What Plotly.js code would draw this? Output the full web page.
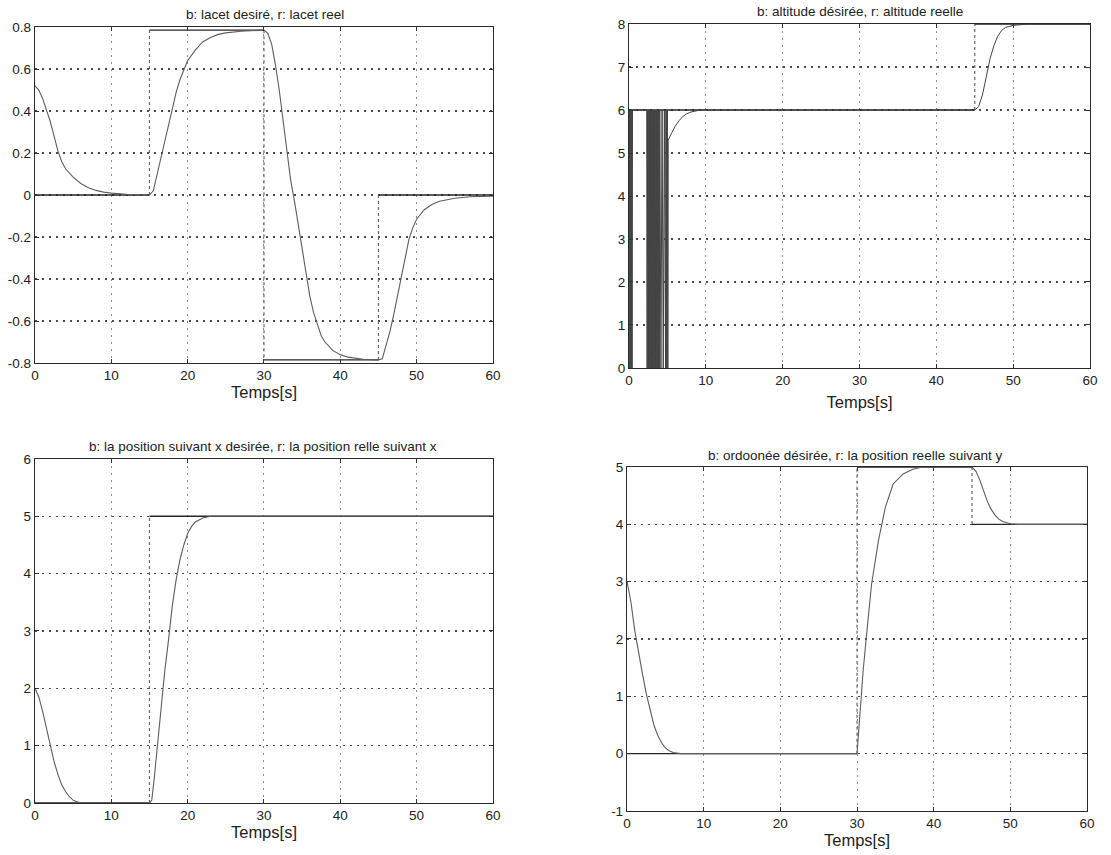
<!DOCTYPE html>
<html>
<head>
<meta charset="utf-8">
<script src="https://cdn.plot.ly/plotly-3.0.1.min.js"></script>
<style>html,body{margin:0;padding:0;background:#fff}#chart{width:1111px;height:855px}</style>
</head>
<body>
<div id="chart"></div>
<script>
// ---- Subplot 1 : yaw (lacet) ----
const yawDesT = [0, 15, 30, 45, 60];
const yawDesY = [0, 0.785, -0.785, 0, 0];
const yawT = [0, 0.5, 1, 1.5, 2, 2.5, 3, 3.5, 4, 5, 6, 7, 8, 9, 10, 12, 15,
  15.5, 16, 16.5, 17, 17.5, 18, 18.5, 19, 19.5, 20, 21, 22, 23, 24, 25, 27, 30,
  30.5, 31, 31.5, 32, 32.5, 33, 33.5, 34, 34.5, 35, 35.5, 36, 36.5, 37, 37.5, 38, 39, 40, 41, 43, 45,
  45.5, 46, 46.5, 47, 47.5, 48, 48.5, 49, 49.5, 50, 51, 52, 53, 55, 57, 60];
const yawY = [0.52, 0.50, 0.46, 0.41, 0.35, 0.28, 0.21, 0.16, 0.125, 0.085, 0.055, 0.035, 0.022, 0.014, 0.009, 0.004, 0,
  0.02, 0.1, 0.18, 0.26, 0.34, 0.42, 0.49, 0.55, 0.6, 0.64, 0.69, 0.73, 0.75, 0.765, 0.772, 0.78, 0.785,
  0.77, 0.72, 0.62, 0.5, 0.35, 0.2, 0.07, -0.03, -0.14, -0.27, -0.38, -0.48, -0.56, -0.62, -0.67, -0.7, -0.74, -0.76, -0.772, -0.782, -0.785,
  -0.78, -0.72, -0.65, -0.57, -0.48, -0.38, -0.29, -0.21, -0.155, -0.115, -0.07, -0.045, -0.03, -0.015, -0.008, -0.005];
const yawTickVals = [-0.8, -0.6, -0.4, -0.2, 0, 0.2, 0.4, 0.6, 0.8];
const yawTickText = ["-0.8", "-0.6", "-0.4", "-0.2", "0", "0.2", "0.4", "0.6", "0.8"];

// ---- Subplot 2 : altitude ----
const altDesT = [0, 45, 60];
const altDesY = [6, 8, 8];
const altT = [0, 0.05, 0.1, 0.15, 0.2, 0.25, 0.3, 0.35, 0.4, 0.45,
  2.3, 2.35, 2.4, 2.45, 2.5, 2.55, 2.6, 2.65, 2.7, 2.75, 2.8, 2.85, 2.9, 2.95, 3.0, 3.05, 3.1, 3.15, 3.2, 3.25,
  3.3, 3.35, 3.4, 3.45, 3.5, 3.55, 3.6, 3.65, 3.7, 3.75, 3.8, 3.85, 3.9, 3.95, 4.0,
  4.15, 4.3, 4.45, 4.6, 4.75, 4.8, 4.85, 4.9, 4.95, 5.0, 5.05, 5.1,
  5.5, 6, 6.5, 7, 7.5, 8, 9, 10, 45,
  45.5, 46, 46.5, 47, 47.5, 48, 48.5, 49, 50, 51, 52, 60];
const altY = [0, 6, 0, 6, 0, 6, 0, 6, 0, 6,
  6, 0, 6, 0, 6, 0, 6, 0, 6, 0, 6, 0, 6, 0, 6, 0, 6, 0, 6, 0,
  6, 0, 6, 0, 6, 0, 6, 0, 6, 0, 6, 0, 6, 0, 6,
  0, 6, 0, 6, 0, 6, 0, 6, 0, 6, 0, 5.3,
  5.45, 5.62, 5.75, 5.85, 5.91, 5.95, 5.99, 6, 6,
  6.08, 6.35, 6.8, 7.2, 7.5, 7.72, 7.85, 7.92, 7.97, 7.99, 8, 8];
const altTickVals = [0, 1, 2, 3, 4, 5, 6, 7, 8];

// ---- Subplot 3 : x position ----
const xDesT = [0, 15, 60];
const xDesY = [0, 5, 5];
const xT = [0, 0.5, 1, 1.5, 2, 2.5, 3, 3.5, 4, 4.5, 5, 5.5, 6, 7, 15,
  15.3, 15.6, 16, 16.5, 17, 17.5, 18, 18.5, 19, 19.5, 20, 20.5, 21, 22, 23, 60];
const xY = [2.0, 1.85, 1.6, 1.3, 1.0, 0.72, 0.5, 0.32, 0.2, 0.11, 0.05, 0.02, 0.005, 0, 0,
  0.05, 0.4, 0.95, 1.6, 2.3, 2.85, 3.45, 3.9, 4.25, 4.5, 4.7, 4.82, 4.9, 4.97, 5.0, 5.0];
const xTickVals = [0, 1, 2, 3, 4, 5, 6];

// ---- Subplot 4 : y position ----
const yDesT = [0, 30, 45, 60];
const yDesY = [0, 5, 4, 4];
const yT = [0, 0.5, 1, 1.5, 2, 2.5, 3, 3.5, 4, 4.5, 5, 5.5, 6, 7, 30,
  30.4, 30.8, 31.3, 31.9, 32.8, 33.7, 34.7, 36, 37.3, 38.5, 45,
  45.5, 46, 46.5, 47, 47.5, 48, 48.5, 49, 50, 51, 60];
const yY = [3.0, 2.65, 2.15, 1.75, 1.4, 1.05, 0.75, 0.5, 0.32, 0.19, 0.1, 0.05, 0.02, 0, 0,
  0.8, 1.45, 2.15, 2.96, 3.72, 4.3, 4.7, 4.88, 4.96, 5.0, 5.0,
  4.93, 4.78, 4.58, 4.4, 4.26, 4.16, 4.09, 4.05, 4.01, 4.0, 4.0];
const yTickVals = [-1, 0, 1, 2, 3, 4, 5];
const yTickText = ["-1", "0", "1", "2", "3", "4", "5"];

const timeTicks = [0, 10, 20, 30, 40, 50, 60];
const titles = [
  "b: lacet desiré, r: lacet reel",
  "b: altitude désirée, r: altitude reelle",
  "b: la position suivant x desirée, r: la position relle suivant x",
  "b: ordoonée désirée, r: la position reelle suivant y"
];
const xLabel = "Temps[s]";

const FONT = "Liberation Sans, Arial, sans-serif";
const desLine = {color: "#262626", width: 1.4};
const desVertLine = {color: "#666666", width: 1.2, dash: "3px,3px"};
const actLine = {color: "#5e5e5e", width: 1.1};

function tr(x, y, line, xa, ya) {
  return {x: x, y: y, type: "scatter", mode: "lines", line: line, xaxis: xa, yaxis: ya,
    hoverinfo: "skip", showlegend: false, connectgaps: false};
}
// desired step signal: flat parts dark, jumps lighter (as in the scan)
function stepTraces(t, v, xa, ya) {
  const hx = [], hy = [], vx = [], vy = [];
  for (let i = 0; i < t.length - 1; i++) {
    hx.push(t[i], t[i + 1], null); hy.push(v[i], v[i], null);
    if (i > 0) { vx.push(t[i], t[i], null); vy.push(v[i - 1], v[i], null); }
  }
  return [tr(vx, vy, desVertLine, xa, ya), tr(hx, hy, desLine, xa, ya)];
}

const data = [].concat(
  stepTraces(yawDesT, yawDesY, "x", "y"),
  [tr(yawT, yawY, actLine, "x", "y")],
  stepTraces(altDesT, altDesY, "x2", "y2"),
  [tr(altT, altY, {color: "#444444", width: 1}, "x2", "y2")],
  stepTraces(xDesT, xDesY, "x3", "y3"),
  [tr(xT, xY, actLine, "x3", "y3")],
  stepTraces(yDesT, yDesY, "x4", "y4"),
  [tr(yT, yY, actLine, "x4", "y4")]
);

function xax(domain, anchor, standoff) {
  return {
    domain: domain, anchor: anchor, range: [0, 60], tickvals: timeTicks,
    ticks: "inside", ticklen: 4, tickcolor: "#333",
    showline: true, mirror: "ticks", linecolor: "#2a2a2a", linewidth: 1.2,
    showgrid: true, gridcolor: "#8a8a8a", griddash: "2px,5px", gridwidth: 1,
    zeroline: false, tickfont: {family: FONT, size: 13.5, color: "#222"},
    title: {text: xLabel, font: {family: FONT, size: 16.5, color: "#222"}, standoff: standoff}
  };
}
function yax(domain, anchor, range, tv, tt) {
  const a = {
    domain: domain, anchor: anchor, range: range, tickvals: tv,
    ticks: "inside", ticklen: 4, tickcolor: "#333",
    showline: true, mirror: "ticks", linecolor: "#2a2a2a", linewidth: 1.2,
    showgrid: true, gridcolor: "#4a4a4a", griddash: "2px,5px", gridwidth: 1.1,
    zeroline: false, tickfont: {family: FONT, size: 13.5, color: "#222"}
  };
  if (tt) a.ticktext = tt;
  return a;
}

const layout = {
  width: 1111, height: 855,
  margin: {l: 0, r: 0, t: 0, b: 0},
  paper_bgcolor: "#ffffff", plot_bgcolor: "#ffffff",
  showlegend: false,
  xaxis: xax([0.0315, 0.4437], "y", 3),
  yaxis: yax([0.5754, 0.9684], "x", [-0.8, 0.8], yawTickVals, yawTickText),
  xaxis2: xax([0.5662, 0.9811], "y2", 9),
  yaxis2: yax([0.5696, 0.9719], "x2", [0, 8], altTickVals),
  xaxis3: xax([0.0315, 0.4437], "y3", 3),
  yaxis3: yax([0.0608, 0.4632], "x3", [0, 6], xTickVals),
  xaxis4: xax([0.5644, 0.9784], "y4", 3),
  yaxis4: yax([0.0515, 0.4538], "x4", [-1, 5], yTickVals, yTickText),
  annotations: [
    {text: titles[0], x: 0.2385, y: 0.9836},
    {text: titles[1], x: 0.774, y: 0.986},
    {text: titles[2], x: 0.2367, y: 0.4772},
    {text: titles[3], x: 0.7696, y: 0.4667}
  ].map(a => Object.assign(a, {xref: "paper", yref: "paper", xanchor: "center", yanchor: "middle",
    showarrow: false, font: {family: FONT, size: 13.5, color: "#222"}}))
};

Plotly.newPlot("chart", data, layout, {staticPlot: true, displayModeBar: false});
</script>
</body>
</html>
